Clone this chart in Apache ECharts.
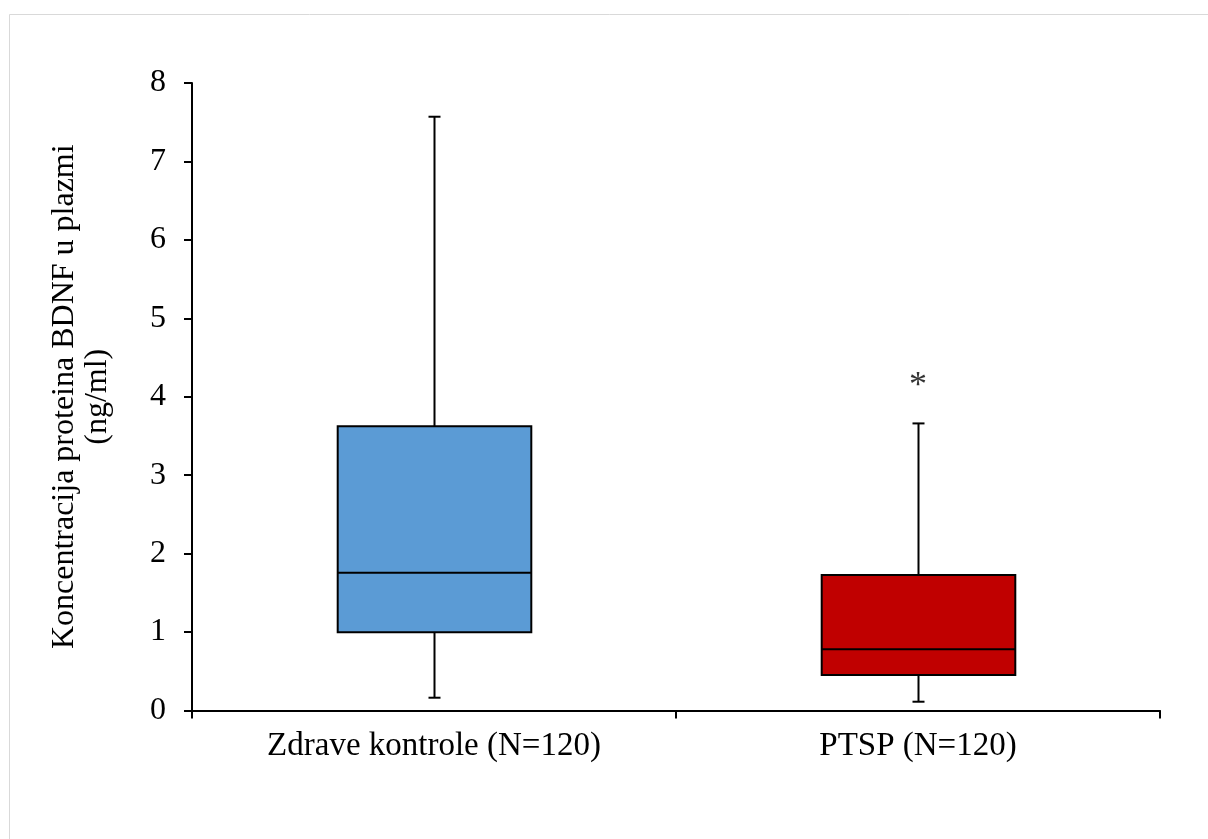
<!DOCTYPE html>
<html>
<head>
<meta charset="utf-8">
<script src="https://cdn.jsdelivr.net/npm/echarts@6/dist/echarts.min.js"></script>
<style>
html,body{margin:0;padding:0;background:#fff;}
#c{width:1208px;height:839px;}
</style>
</head>
<body>
<div id="c"></div>
<script>
var categories = ['Zdrave kontrole (N=120)', 'PTSP (N=120)'];
// [min whisker, Q1, median, Q3, max whisker]
var boxStats = [
  [0.163, 0.997, 1.755, 3.625, 7.57],
  [0.112, 0.453, 0.78, 1.728, 3.66]
];
var boxColors = ['#5B9BD5', '#C00000'];
var markers = [[1, 4.13, '*']];
var yTicks = [0, 1, 2, 3, 4, 5, 6, 7, 8];

var FONT = '"Liberation Serif", "Times New Roman", serif';
var chart = echarts.init(document.getElementById('c'), null, {renderer: 'canvas'});

var customData = boxStats.map(function (s, i) { return [i].concat(s); });

chart.setOption({
  backgroundColor: '#fff',
  animation: false,
  graphic: [{
    type: 'rect',
    shape: {x: 9.5, y: 14.5, width: 1400, height: 1000},
    style: {fill: 'none', stroke: '#d9d9d9', lineWidth: 1},
    silent: true, z: -1
  }],
  grid: {left: 192, right: 48, top: 83, bottom: 128.5},
  xAxis: {
    type: 'category',
    data: categories,
    boundaryGap: true,
    axisLine: {lineStyle: {color: '#000', width: 2}},
    axisTick: {show: true, length: 8, inside: false, alignWithLabel: false, lineStyle: {color: '#000', width: 2}},
    axisLabel: {color: '#000', fontFamily: FONT, fontSize: 33, margin: 19},
    splitLine: {show: false}
  },
  yAxis: {
    type: 'value',
    min: yTicks[0],
    max: yTicks[yTicks.length - 1],
    interval: 1,
    name: 'Koncentracija proteina BDNF u plazmi\n(ng/ml)',
    nameLocation: 'middle',
    nameRotate: 90,
    nameGap: 78,
    nameTextStyle: {color: '#000', fontFamily: FONT, fontSize: 32, lineHeight: 33},
    axisLine: {show: true, lineStyle: {color: '#000', width: 2}},
    axisTick: {show: true, length: 8, inside: false, lineStyle: {color: '#000', width: 2}},
    axisLabel: {color: '#000', fontFamily: FONT, fontSize: 32, margin: 26},
    splitLine: {show: false}
  },
  series: [{
    type: 'custom',
    data: customData,
    encode: {x: 0, y: [1, 2, 3, 4, 5]},
    renderItem: function (params, api) {
      var idx = api.value(0);
      var lo = api.coord([idx, api.value(1)]);
      var q1 = api.coord([idx, api.value(2)]);
      var med = api.coord([idx, api.value(3)]);
      var q3 = api.coord([idx, api.value(4)]);
      var hi = api.coord([idx, api.value(5)]);
      var bandW = api.size([1, 0])[0];
      var bw = bandW * 0.4;
      var cx = Math.round(lo[0]) + 0.5;
      var x0 = cx - bw / 2;
      var cap = 6;
      var ls = {stroke: '#000', lineWidth: 2};
      return {
        type: 'group',
        children: [
          {type: 'line', shape: {x1: cx, y1: hi[1], x2: cx, y2: q3[1]}, style: ls},
          {type: 'line', shape: {x1: cx - cap, y1: hi[1], x2: cx + cap, y2: hi[1]}, style: ls},
          {type: 'line', shape: {x1: cx, y1: lo[1], x2: cx, y2: q1[1]}, style: ls},
          {type: 'line', shape: {x1: cx - cap, y1: lo[1], x2: cx + cap, y2: lo[1]}, style: ls},
          {type: 'rect', shape: {x: x0, y: q3[1], width: bw, height: q1[1] - q3[1]},
            style: {fill: boxColors[idx], stroke: '#000', lineWidth: 2}},
          {type: 'line', shape: {x1: x0, y1: med[1], x2: x0 + bw, y2: med[1]}, style: ls}
        ]
      };
    }
  }, {
    type: 'scatter',
    data: markers.map(function (m) { return [m[0], m[1], m[2]]; }),
    symbolSize: 0,
    label: {
      show: true,
      position: 'inside',
      formatter: function (p) { return p.data[2]; },
      color: '#000',
      fontFamily: FONT,
      fontSize: 36
    }
  }]
});
</script>
</body>
</html>
